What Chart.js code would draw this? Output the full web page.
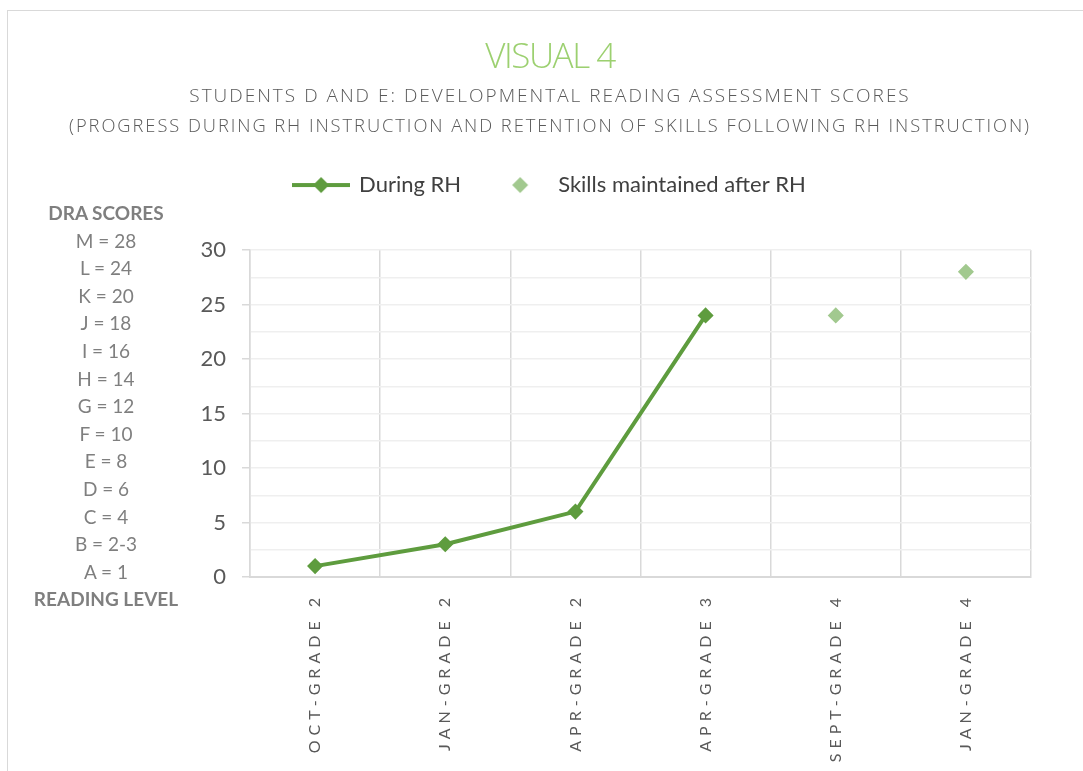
<!DOCTYPE html>
<html>
<head>
<meta charset="utf-8">
<script src="https://cdn.jsdelivr.net/npm/chart.js@4"></script>
<style>
  html, body { margin: 0; padding: 0; background: #fff; overflow: hidden; }
  #wrap { position: relative; width: 1083px; height: 771px; }
  #frame { position: absolute; left: 7px; top: 10px; width: 1100px; height: 800px; border: 1.5px solid #d9d9d9; box-sizing: border-box; }
  #chart { position: absolute; left: 0; top: 0; }
  #levels { position: absolute; left: 6px; top: 199px; width: 200px; text-align: center; font-family: Lato, sans-serif; font-size: 19px; line-height: 27.6px; color: #7f7f7f; }
  #levels .head { font-weight: bold; }
</style>
</head>
<body>
<div id="wrap">
  <div id="frame"></div>
  <canvas id="chart" width="1083" height="771"></canvas>
  <div id="levels"></div>
</div>
<script>
const categories = ['OCT-GRADE 2', 'JAN-GRADE 2', 'APR-GRADE 2', 'APR-GRADE 3', 'SEPT-GRADE 4', 'JAN-GRADE 4'];
const duringRH = [1, 3, 6, 24, null, null];
const maintainedAfterRH = [null, null, null, null, 24, 28];
const levelLabels = ['M = 28', 'L = 24', 'K = 20', 'J = 18', 'I = 16', 'H = 14', 'G = 12', 'F = 10', 'E = 8', 'D = 6', 'C = 4', 'B = 2-3', 'A = 1'];
const levelHeads = ['DRA SCORES', 'READING LEVEL'];
const yTicks = { min: 0, max: 30, step: 2.5, labelEvery: 5 };

const titleText = 'VISUAL 4';
const subtitleText = [
  'STUDENTS D AND E: DEVELOPMENTAL READING ASSESSMENT SCORES',
  '(PROGRESS DURING RH INSTRUCTION AND RETENTION OF SKILLS FOLLOWING RH INSTRUCTION)'
];

const darkGreen = '#5e9c3e';
const lightGreen = '#a2c98f';

// reading level column on the left
const levelsBox = document.getElementById('levels');
[levelHeads[0], ...levelLabels, levelHeads[1]].forEach((t, i, all) => {
  const d = document.createElement('div');
  d.textContent = t;
  if (i === 0 || i === all.length - 1) d.className = 'head';
  levelsBox.appendChild(d);
});

// small legend icons: line with diamond, and diamond only
function legendIcon(withLine, color) {
  const c = document.createElement('canvas');
  c.width = 58; c.height = 20;
  const g = c.getContext('2d');
  if (withLine) {
    g.strokeStyle = color; g.lineWidth = 4;
    g.beginPath(); g.moveTo(0, 10); g.lineTo(58, 10); g.stroke();
  }
  g.fillStyle = color;
  g.beginPath(); g.moveTo(29, 2); g.lineTo(37, 10); g.lineTo(29, 18); g.lineTo(21, 10); g.closePath(); g.fill();
  return c;
}
const icons = [legendIcon(true, darkGreen), legendIcon(false, lightGreen)];

// letter spacing for the category labels and the titles
const boxSpacing = { [String(titleText)]: '-1.5px', [String(subtitleText)]: '2px' };
function withSpacing(ctx, spacing, fn) {
  ctx.save();
  ctx.letterSpacing = spacing;
  fn();
  ctx.restore();
}
const spacedText = {
  id: 'spacedText',
  beforeDraw(chart) {
    const sc = chart.scales.x;
    if (!sc._spaced) {
      const orig = sc.drawLabels.bind(sc);
      sc.drawLabels = area => withSpacing(chart.ctx, '5px', () => orig(area));
      sc._spaced = true;
    }
    chart.boxes.forEach(b => {
      if (b._spaced || !b.options || b.options.text === undefined) return;
      const sp = boxSpacing[String(b.options.text)];
      if (!sp) return;
      const orig = b.draw.bind(b);
      b.draw = (...a) => withSpacing(chart.ctx, sp, () => orig(...a));
      b._spaced = true;
    });
  }
};

const ctx = document.getElementById('chart').getContext('2d');
new Chart(ctx, {
  type: 'line',
  data: {
    labels: categories,
    datasets: [
      {
        label: 'During RH',
        data: duringRH,
        xAxisID: 'x',
        borderColor: darkGreen,
        backgroundColor: darkGreen,
        borderWidth: 4,
        pointStyle: 'rectRot',
        pointRadius: 7,
        pointBorderWidth: 1.5,
        pointBackgroundColor: darkGreen,
        pointBorderColor: darkGreen,
        tension: 0
      },
      {
        label: 'Skills maintained after RH',
        data: maintainedAfterRH,
        xAxisID: 'x',
        showLine: false,
        borderColor: lightGreen,
        backgroundColor: lightGreen,
        pointStyle: 'rectRot',
        pointRadius: 7,
        pointBorderWidth: 1.5,
        pointBackgroundColor: lightGreen,
        pointBorderColor: lightGreen
      }
    ]
  },
  options: {
    responsive: false,
    animation: false,
    devicePixelRatio: 1,
    layout: { padding: { left: 69, right: 52, top: 0, bottom: 0 } },
    plugins: {
      tooltip: { enabled: false },
      title: {
        display: true,
        text: titleText,
        color: '#9cd070',
        font: { family: "'Open Sans', sans-serif", size: 35, weight: 300, lineHeight: 1.2 },
        padding: { top: 37, bottom: 0 }
      },
      subtitle: {
        display: true,
        text: subtitleText,
        color: '#595959',
        font: { family: "'Open Sans', sans-serif", size: 19, weight: 300, lineHeight: 1.58 },
        padding: { top: 3, bottom: 0 }
      },
      legend: {
        position: 'top',
        labels: {
          usePointStyle: true,
          pointStyleWidth: 54,
          padding: 32,
          color: '#404040',
          font: { family: 'Lato, sans-serif', size: 22 },
          generateLabels: chart => chart.data.datasets.map((ds, i) => ({
            text: ds.label,
            pointStyle: icons[i],
            datasetIndex: i,
            hidden: false,
            fillStyle: ds.backgroundColor,
            strokeStyle: ds.borderColor,
            lineWidth: 0,
            fontColor: '#404040'
          }))
        }
      }
    },
    scales: {
      x: {
        offset: true,
        afterFit: s => { s.height = 194; },
        grid: { offset: true, color: '#d9d9d9', lineWidth: 1.5, drawTicks: false },
        border: { color: '#d9d9d9', width: 2 },
        ticks: {
          autoSkip: false,
          minRotation: 90,
          maxRotation: 90,
          padding: 16,
          color: '#595959',
          font: { family: 'Lato, sans-serif', size: 16 }
        }
      },
      xTop: {
        type: 'category',
        position: 'top',
        afterFit: s => { s.height = 44; },
        grid: { display: false },
        border: { display: false },
        ticks: { display: false }
      },
      y: {
        min: yTicks.min,
        max: yTicks.max,
        afterFit: s => { s.width = 181; },
        grid: {
          color: '#efefef',
          lineWidth: 1.5,
          tickLength: 8,
          tickColor: c => (c.tick.value % yTicks.labelEvery === 0 ? '#d9d9d9' : 'rgba(0,0,0,0)')
        },
        border: { color: '#d9d9d9', width: 1.5 },
        ticks: {
          stepSize: yTicks.step,
          autoSkip: false,
          padding: 16,
          color: '#595959',
          font: { family: 'Lato, sans-serif', size: 22 },
          callback: v => (v % yTicks.labelEvery === 0 ? v : '')
        }
      }
    }
  },
  plugins: [spacedText]
});
</script>
</body>
</html>
